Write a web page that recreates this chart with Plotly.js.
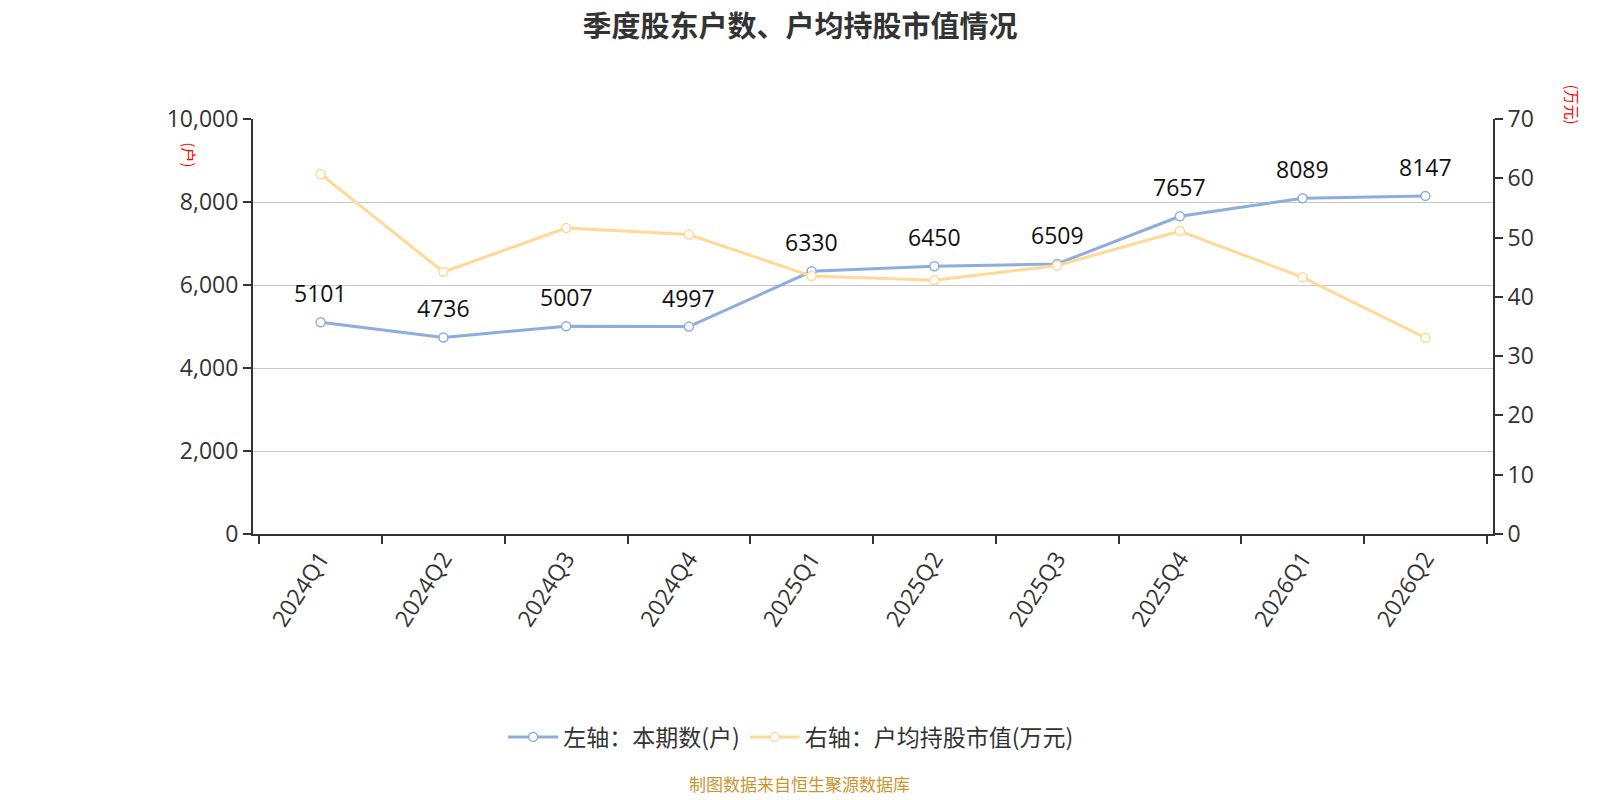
<!DOCTYPE html>
<html>
<head>
<meta charset="utf-8">
<script src="https://cdn.plot.ly/plotly-3.0.1.min.js"></script>
<style>
  html, body { margin: 0; padding: 0; background: #fff; }
  #chart { width: 1600px; height: 800px; }
</style>
</head>
<body>
<div id="chart"></div>
<script>
var quarters = ['2024Q1', '2024Q2', '2024Q3', '2024Q4', '2025Q1', '2025Q2', '2025Q3', '2025Q4', '2026Q1', '2026Q2']
var holders = [5101, 4736, 5007, 4997, 6330, 6450, 6509, 7657, 8089, 8147]
var avgValue = [60.7, 44.2, 51.6, 50.5, 43.5, 42.8, 45.3, 51.1, 43.3, 33.1]

var leftTicks = [0, 2000, 4000, 6000, 8000, 10000]
var leftTickText = ['0', '2,000', '4,000', '6,000', '8,000', '10,000']
var rightTicks = [0, 10, 20, 30, 40, 50, 60, 70]

var blue = '#8eaddc'
var yellow = '#fed997'
var font = '"Open Sans", "Noto Sans CJK SC", sans-serif'
var cjk = '"Noto Sans CJK SC", "Noto Sans", sans-serif'

function series(name, y, colour, axis) {
  return {
    x: quarters,
    y: y,
    name: name,
    yaxis: axis,
    type: 'scatter',
    mode: 'lines+markers',
    line: { color: colour, width: 3 },
    marker: {
      symbol: 'circle',
      size: 9,
      color: '#ffffff',
      line: { color: colour, width: 1.5 }
    },
    hoverinfo: 'x+y'
  }
}

var data = [
  series('左轴：本期数(户)', holders, blue, 'y'),
  series('右轴：户均持股市值(万元)', avgValue, yellow, 'y2')
]

// value labels above the blue line
var annotations = []
for (i = 0; i < quarters.length; i++) {
  annotations.push({
    x: quarters[i],
    y: holders[i],
    xref: 'x',
    yref: 'y',
    text: String(holders[i]),
    showarrow: false,
    yanchor: 'bottom',
    yshift: 11,
    font: { family: font, size: 23, color: '#111' }
  })
}

annotations.push({
  text: '(户)', xref: 'paper', yref: 'paper', x: -0.051, y: 0.913,
  xanchor: 'center', yanchor: 'middle',
  textangle: 90, showarrow: false, font: { family: cjk, size: 15, color: '#ff0000' }
})
annotations.push({
  text: '(万元)', xref: 'paper', yref: 'paper', x: 1.064, y: 1.034,
  xanchor: 'center', yanchor: 'middle',
  textangle: 90, showarrow: false, font: { family: cjk, size: 15, color: '#ff0000' }
})
annotations.push({
  text: '制图数据来自恒生聚源数据库', xref: 'paper', yref: 'paper', x: 0.441, y: -0.6,
  yanchor: 'middle', showarrow: false, font: { family: cjk, size: 17, color: '#c9952f' }
})

var layout = {
  title: {
    text: '<b>季度股东户数、户均持股市值情况</b>',
    x: 0.5,
    y: 0.966,
    yanchor: 'middle',
    font: { family: cjk, size: 29, color: '#333' }
  },
  font: { family: font, color: '#333' },
  paper_bgcolor: '#fff',
  plot_bgcolor: '#fff',
  showlegend: true,
  legend: {
    orientation: 'h',
    x: 0.434,
    xanchor: 'center',
    y: -0.489,
    yanchor: 'middle',
    font: { family: cjk, size: 23, color: '#333' },
    itemwidth: 50
  },
  xaxis: {
    type: 'category',
    tickson: 'boundaries',
    ticks: 'outside',
    ticklen: 8,
    tickwidth: 1.5,
    tickcolor: '#333',
    tickangle: -57,
    tickfont: { family: font, size: 23, color: '#333' },
    showline: true,
    linecolor: '#333',
    linewidth: 2,
    showgrid: false,
    zeroline: false,
    fixedrange: true
  },
  yaxis: {
    range: [0, 10000],
    tickvals: leftTicks,
    ticktext: leftTickText,
    ticks: 'outside',
    ticklen: 8,
    tickwidth: 1.5,
    tickcolor: '#333',
    tickfont: { family: font, size: 23, color: '#333' },
    showline: true,
    linecolor: '#333',
    linewidth: 2,
    gridcolor: '#c8c8c8',
    gridwidth: 1.2,
    zeroline: false,
    fixedrange: true
  },
  yaxis2: {
    overlaying: 'y',
    side: 'right',
    range: [0, 70],
    tickvals: rightTicks,
    ticks: 'outside',
    ticklen: 8,
    tickwidth: 1.5,
    tickcolor: '#333',
    tickfont: { family: font, size: 23, color: '#333' },
    showline: true,
    linecolor: '#333',
    linewidth: 2,
    showgrid: false,
    zeroline: false,
    fixedrange: true
  },
  annotations: annotations,
  margin: { l: 253, r: 107, t: 119, b: 266 }
}

Plotly.newPlot('chart', data, layout, { displayModeBar: false })
</script>
</body>
</html>
